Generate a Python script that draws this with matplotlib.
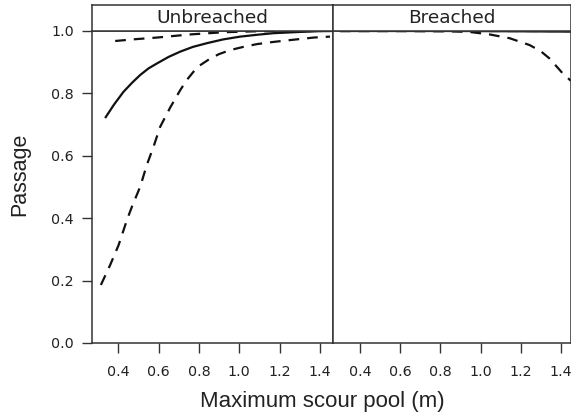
import matplotlib
matplotlib.use("Agg")
import matplotlib.pyplot as plt

# panel names
panels = ["Unbreached", "Breached"]

# Unbreached: fitted curve and bounds
unb_fit_x = [0.335, 0.38, 0.426, 0.47, 0.509, 0.55, 0.592, 0.65, 0.708, 0.77, 0.84, 0.92, 1.005, 1.09, 1.17, 1.30, 1.42, 1.46]
unb_fit_y = [0.721, 0.765, 0.805, 0.835, 0.859, 0.880, 0.896, 0.917, 0.934, 0.949, 0.961, 0.973, 0.982, 0.988, 0.993, 0.997, 1.000, 1.000]
unb_lo_x = [0.314, 0.36, 0.402, 0.443, 0.468, 0.509, 0.542, 0.575, 0.608, 0.658, 0.708, 0.74, 0.774, 0.81, 0.857, 0.90, 0.956, 1.02, 1.088, 1.17, 1.254, 1.37, 1.45]
unb_lo_y = [0.186, 0.250, 0.314, 0.394, 0.437, 0.501, 0.571, 0.629, 0.693, 0.755, 0.811, 0.843, 0.870, 0.892, 0.912, 0.926, 0.939, 0.949, 0.958, 0.965, 0.971, 0.979, 0.982]
unb_hi_x = [0.385, 0.49, 0.592, 0.757, 0.921, 1.08, 1.25, 1.45]
unb_hi_y = [0.968, 0.974, 0.979, 0.989, 0.996, 0.999, 1.000, 1.000]

# Breached: fitted curve and bounds
br_fit_x = [0.30, 0.60, 0.90, 1.20, 1.45]
br_fit_y = [1.000, 1.000, 1.000, 0.999, 0.998]
br_lo_x = [0.30, 0.60, 0.85, 0.946, 1.045, 1.144, 1.244, 1.30, 1.343, 1.409, 1.45]
br_lo_y = [1.000, 1.000, 0.999, 0.997, 0.989, 0.977, 0.955, 0.935, 0.912, 0.864, 0.840]
br_hi_x = [0.30, 0.60, 0.90, 1.20, 1.45]
br_hi_y = [1.000, 1.000, 1.000, 1.000, 1.000]

xticks = [0.4, 0.6, 0.8, 1.0, 1.2, 1.4]
yticks = [0.0, 0.2, 0.4, 0.6, 0.8, 1.0]

W, H = 571, 420
fig = plt.figure(figsize=(W / 100, H / 100), dpi=100)

ax_col = "#333333"
line_col = "#111111"
dash = (0, (4.8, 3.6))

boxes = [(92, 333, (0.27, 1.465)), (333, 571, (0.266, 1.45))]
data = [
    (unb_fit_x, unb_fit_y, unb_lo_x, unb_lo_y, unb_hi_x, unb_hi_y),
    (br_fit_x, br_fit_y, br_lo_x, br_lo_y, br_hi_x, br_hi_y),
]

for i, (name, (x0, x1, xl), d) in enumerate(zip(panels, boxes, data)):
    ax = fig.add_axes([x0 / W, (H - 343) / H, (x1 - x0) / W, 312 / H])
    fx, fy, lx, ly, hx, hy = d
    ax.plot(fx, fy, color=line_col, lw=1.6, solid_capstyle="butt", solid_joinstyle="round")
    ax.plot(lx, ly, color=line_col, lw=1.6, linestyle=dash)
    ax.plot(hx, hy, color=line_col, lw=1.6, linestyle=dash)
    ax.set_xlim(xl)
    ax.set_ylim(0, 1)
    ax.set_xticks(xticks)
    ax.set_xticklabels([f"{v:.1f}" for v in xticks])
    ax.set_yticks(yticks)
    if i == 0:
        ax.set_yticklabels([f"{v:.1f}" for v in yticks])
    else:
        ax.tick_params(axis="y", left=False, labelleft=False)
    ax.tick_params(axis="x", length=7, width=1, color=ax_col, labelcolor="#222222",
                   labelsize=10.3, pad=9)
    ax.tick_params(axis="y", length=7, width=1, color=ax_col, labelcolor="#222222",
                   labelsize=10.3, pad=6)
    for s in ax.spines.values():
        s.set_color(ax_col)
        s.set_linewidth(1.1)

    # strip on top
    st = fig.add_axes([x0 / W, (H - 31) / H, (x1 - x0) / W, 26 / H])
    st.set_xticks([])
    st.set_yticks([])
    for s in st.spines.values():
        s.set_color(ax_col)
        s.set_linewidth(1.1)
    st.text(0.5, 0.5, name, ha="center", va="center", fontsize=13.3,
            color="#222222", transform=st.transAxes)

fig.text(20 / W, 1 - 174 / H, "Passage", rotation=90, ha="center", va="center",
         fontsize=15.5, family="Liberation Sans", color="#222222")
fig.text(322 / W, 1 - 401 / H, "Maximum scour pool (m)", ha="center", va="center",
         fontsize=16, family="Liberation Sans", color="#222222")

fig.savefig("out.png", dpi=100)
